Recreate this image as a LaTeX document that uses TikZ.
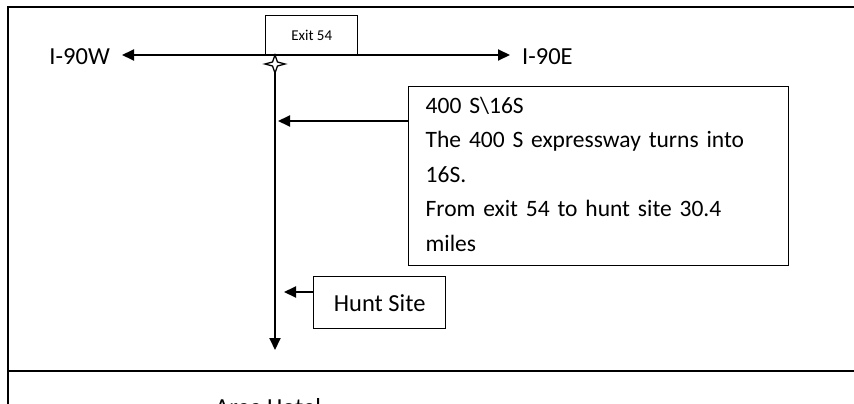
\documentclass[tikz,border=0pt]{standalone}
\usepackage{fontspec}
\setmainfont{Carlito}
\usetikzlibrary{arrows.meta}
\begin{document}
\begin{tikzpicture}[x=1pt,y=-1pt,
  arr/.style={line width=2pt,-{Triangle[length=12pt,width=11pt]}},
  box/.style={draw,line width=1.4pt,rectangle,inner sep=0pt},
  lbl/.style={font=\fontsize{24.5}{29}\selectfont,inner sep=0pt}]
\useasboundingbox (0,0) rectangle (854,404);
\clip (0,0) rectangle (854,404);
% frame
\draw[line width=2pt] (854,7) -- (8,7) -- (8,404);
\draw[line width=1.6pt] (8,371) -- (854,371);
% exit box
\node[box,minimum width=92pt,minimum height=39pt,anchor=north west,font=\fontsize{15}{18}\selectfont] (exit) at (265,15) {Exit 54};
% labels
\node[lbl,anchor=east] (w) at (110,57) {I-90W};
\node[lbl,anchor=west] (e) at (522,57) {I-90E};
\coordinate (j) at (275,55);
\coordinate (wt) at (122,55);
\coordinate (et) at (510,55);
\draw[arr] (j) -- (wt);
\draw[arr] (j) -- (et);
\coordinate (s) at (275,350);
\draw[arr] (j) -- (s);
% star marker
\filldraw[fill=white,line width=1.3pt] (275,55) -- (277.5,62) -- (285,64) -- (277.5,66) -- (275,73) -- (272.5,66) -- (265,64) -- (272.5,62) -- cycle;
% big box
\node[box,anchor=north west,minimum width=380pt,minimum height=179pt,text width=346pt,inner xsep=17pt,inner ysep=0pt,align=left,
  font=\fontsize{23.5}{34.5}\selectfont] (big) at (408,86)
  {400 S\textbackslash 16S\\The 400 S expressway turns into\\16S.\\From exit 54 to hunt site 30.4\\miles\vspace*{4pt}};
\coordinate (b1) at (278,121);
\draw[arr] (big.west |- b1) -- (b1);
% hunt site
\node[box,anchor=north west,minimum width=132pt,minimum height=52pt,font=\fontsize{24.5}{29}\selectfont] (hunt) at (313,276) {Hunt Site};
\coordinate (h1) at (284,292);
\draw[arr] (hunt.west |- h1) -- (h1);
% bottom text (cut off in the reference)
\node[lbl,anchor=base west] (hotel) at (215,415) {Area Hotel};
\end{tikzpicture}
\end{document}
